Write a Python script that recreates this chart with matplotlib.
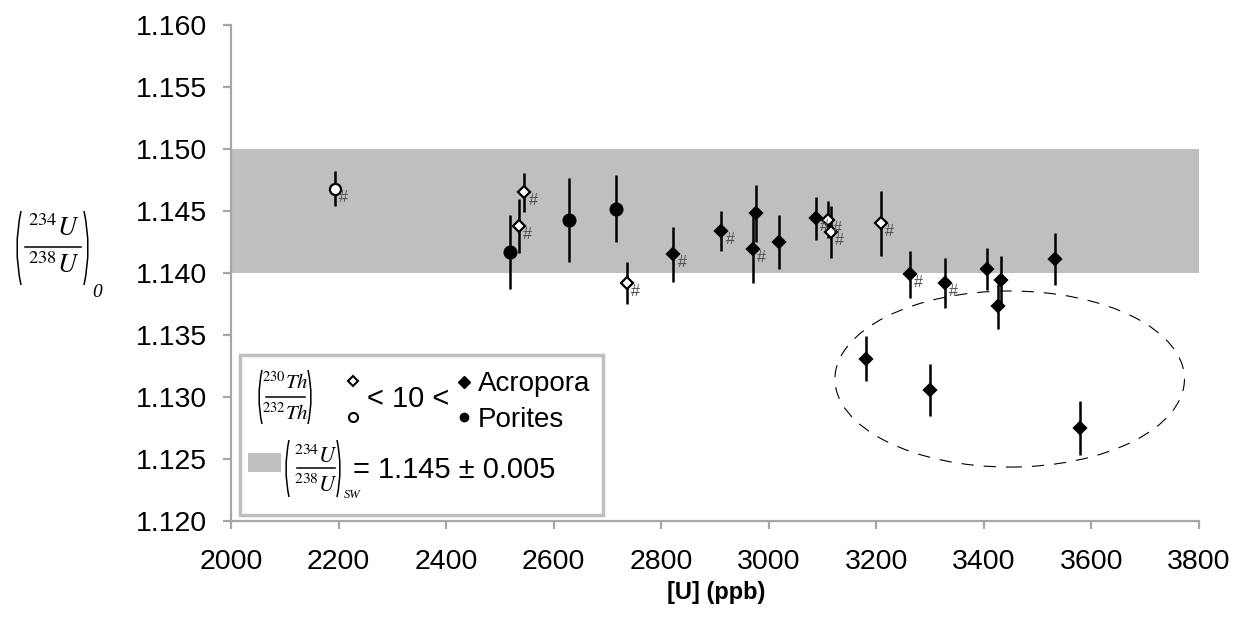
import matplotlib
matplotlib.use('Agg')
import matplotlib.pyplot as plt
from matplotlib.patches import Ellipse, Rectangle, PathPatch
from matplotlib.path import Path
from matplotlib.lines import Line2D

plt.rcParams['font.family'] = ['Liberation Sans', 'DejaVu Sans']
plt.rcParams['mathtext.fontset'] = 'stix'

# ---- data ----
# Acropora, (230Th/232Th) > 10 (filled diamonds)
acro_x = [2822, 2911, 2976, 2970, 3019, 3087, 3262, 3327, 3405, 3431, 3426, 3532, 3180, 3299, 3578]
acro_y = [1.1415, 1.1434, 1.1448, 1.1419, 1.1425, 1.1444, 1.1399, 1.1392, 1.1403, 1.1394, 1.1373, 1.1411, 1.1331, 1.1306, 1.1275]
acro_err = [0.0022, 0.0016, 0.0023, 0.0027, 0.0022, 0.0017, 0.0019, 0.0020, 0.0017, 0.0020, 0.0018, 0.0021, 0.0018, 0.0021, 0.0022]
acro_hash = [True, True, False, True, False, True, True, True, False, False, False, False, False, False, False]

# Acropora, (230Th/232Th) < 10 (open diamonds)
acro_low_x = [2535, 2545, 2736, 3110, 3115, 3208]
acro_low_y = [1.1438, 1.1465, 1.1392, 1.1443, 1.1433, 1.1440]
acro_low_err = [0.0022, 0.0016, 0.0017, 0.0015, 0.0021, 0.0026]
acro_low_hash = [True, True, True, True, True, True]

# Porites, (230Th/232Th) > 10 (filled circles)
por_x = [2519, 2628, 2716]
por_y = [1.1417, 1.1443, 1.1452]
por_err = [0.0030, 0.0034, 0.0027]
por_hash = [False, False, False]

# Porites, (230Th/232Th) < 10 (open circles)
por_low_x = [2193]
por_low_y = [1.1468]
por_low_err = [0.0014]
por_low_hash = [True]

sw_mean = 1.145
sw_err = 0.005

# dashed ellipse around outliers (centre, width, height in data units)
ell_center = (3448, 1.13145)
ell_width = 650
ell_height = 0.0142

x_ticks = [2000, 2200, 2400, 2600, 2800, 3000, 3200, 3400, 3600, 3800]
y_ticks = [1.120, 1.125, 1.130, 1.135, 1.140, 1.145, 1.150, 1.155, 1.160]

# ---- figure ----
W, H = 1244, 626
fig = plt.figure(figsize=(W / 100, H / 100), dpi=100)
ax = fig.add_axes([231 / W, 1 - 521 / H, (1199 - 231) / W, (521 - 25) / H])

ax.axhspan(sw_mean - sw_err, sw_mean + sw_err, color='#c0bfc0', lw=0, zorder=0)

ax.add_patch(Ellipse(ell_center, ell_width, ell_height, fill=False,
                     ls=(0, (11, 9)), lw=0.8, color='black', zorder=1))

groups = [
    (acro_x, acro_y, acro_err, acro_hash, 'D', 6.3, 'black'),
    (acro_low_x, acro_low_y, acro_low_err, acro_low_hash, 'D', 6.3, 'white'),
    (por_x, por_y, por_err, por_hash, 'o', 8.5, 'black'),
    (por_low_x, por_low_y, por_low_err, por_low_hash, 'o', 8.0, 'white'),
]
for xs, ys, es, hs, mk, ms, fc in groups:
    ax.errorbar(xs, ys, yerr=es, fmt='none', ecolor='black', elinewidth=1.8,
                capsize=0, zorder=2)
for xs, ys, es, hs, mk, ms, fc in groups:
    ax.plot(xs, ys, ls='none', marker=mk, ms=ms, mfc=fc, mec='black',
            mew=1.6, zorder=3)
    for x, y, h in zip(xs, ys, hs):
        if h:
            ax.annotate('#', (x, y), xytext=(6.5, -6), textcoords='offset points',
                        ha='center', va='center', fontsize=11.5, color='#505050',
                        zorder=4)

ax.set_xlim(2000, 3800)
ax.set_ylim(1.120, 1.160)
ax.set_xticks(x_ticks)
ax.set_xticklabels([str(v) for v in x_ticks])
ax.set_yticks(y_ticks)
ax.set_yticklabels(['%.3f' % v for v in y_ticks])

for s in ['top', 'right']:
    ax.spines[s].set_visible(False)
for s in ['left', 'bottom']:
    ax.spines[s].set_color('#a6a6a6')
    ax.spines[s].set_linewidth(1.6)
ax.tick_params(direction='out', length=5.5, width=1.6, color='#a6a6a6',
               labelsize=20.5, labelcolor='black')
ax.tick_params(axis='x', pad=15)
ax.tick_params(axis='y', pad=12)

fig.text(716 / W, 1 - 593 / H, '[U] (ppb)', fontsize=17, fontweight='bold',
         ha='center', va='center')


# ---- helpers in figure pixel coordinates (y measured from top) ----
def fx(px):
    return px / W


def fy(py):
    return 1 - py / H


def paren(x, top, bot, left=True, bulge=7, lw=1.1, z=6):
    mid = (top + bot) / 2
    if left:
        pts = [(fx(x + bulge / 2), fy(top)), (fx(x - bulge / 2), fy(mid)),
               (fx(x + bulge / 2), fy(bot))]
    else:
        pts = [(fx(x - bulge / 2), fy(top)), (fx(x + bulge / 2), fy(mid)),
               (fx(x - bulge / 2), fy(bot))]
    p = Path(pts, [Path.MOVETO, Path.CURVE3, Path.CURVE3])
    fig.add_artist(PathPatch(p, transform=fig.transFigure, fill=False,
                             lw=lw, color='black', zorder=z))


def ratio(cx, line_y, x0, x1, num, den, num_base, den_base, size,
          ptop, pbot, pl, pr, sub, sub_x, sub_y, sub_size, bulge):
    fig.text(fx(cx), fy(num_base), num, fontsize=size, ha='center',
             va='baseline', zorder=6)
    fig.text(fx(cx), fy(den_base), den, fontsize=size, ha='center',
             va='baseline', zorder=6)
    fig.add_artist(Line2D([fx(x0), fx(x1)], [fy(line_y), fy(line_y)],
                          transform=fig.transFigure, color='black', lw=1.1,
                          zorder=6))
    paren(pl, ptop, pbot, True, bulge)
    paren(pr, ptop, pbot, False, bulge)
    if sub:
        fig.text(fx(sub_x), fy(sub_y), sub, fontsize=sub_size,
                 family='Liberation Serif', style='italic', ha='left',
                 va='baseline', zorder=6)


# y-axis label (234U/238U)_0
ratio(54, 247, 25, 81, r'$^{234}U$', r'$^{238}U$', 236, 273, 19,
      211, 285, 17, 88, '0', 92, 297, 14, 8)

# ---- legend (manual) ----
fig.add_artist(Rectangle((fx(240), fy(515)), fx(603) - fx(240), fy(355) - fy(515),
                         transform=fig.transFigure, facecolor='white',
                         edgecolor='#bfbfbf', lw=2.5, zorder=5))
ratio(285, 397, 266, 305, r'$^{230}Th$', r'$^{232}Th$', 389, 420, 15,
      370, 424, 259, 311, None, 0, 0, 0, 6)
fig.add_artist(Line2D([fx(353)], [fy(381)], transform=fig.transFigure, marker='D',
                      ms=5.2, mfc='white', mec='black', mew=1.5, ls='none', zorder=6))
fig.add_artist(Line2D([fx(353)], [fy(417)], transform=fig.transFigure, marker='o',
                      ms=6.5, mfc='white', mec='black', mew=1.5, ls='none', zorder=6))
fig.text(fx(408), fy(407), '< 10 <', fontsize=21, ha='center', va='baseline', zorder=6)
fig.add_artist(Line2D([fx(464)], [fy(382)], transform=fig.transFigure, marker='D',
                      ms=6.0, mfc='black', mec='black', ls='none', zorder=6))
fig.add_artist(Line2D([fx(464)], [fy(417)], transform=fig.transFigure, marker='o',
                      ms=6.0, mfc='black', mec='black', ls='none', zorder=6))
fig.text(fx(478), fy(391), 'Acropora', fontsize=20, ha='left', va='baseline', zorder=6)
fig.text(fx(478), fy(427), 'Porites', fontsize=20, ha='left', va='baseline', zorder=6)
fig.add_artist(Rectangle((fx(248), fy(472)), fx(281) - fx(248), fy(453) - fy(472),
                         transform=fig.transFigure, facecolor='#c0bfc0',
                         edgecolor='none', zorder=6))
ratio(316, 468, 297, 335, r'$^{234}U$', r'$^{238}U$', 463, 492, 16,
      440, 497, 286, 340, 'SW', 344, 498, 9, 6)
fig.text(fx(353), fy(478), '= 1.145 \u00b1 0.005', fontsize=21, ha='left',
         va='baseline', zorder=6)

fig.savefig('out.png', dpi=100)
